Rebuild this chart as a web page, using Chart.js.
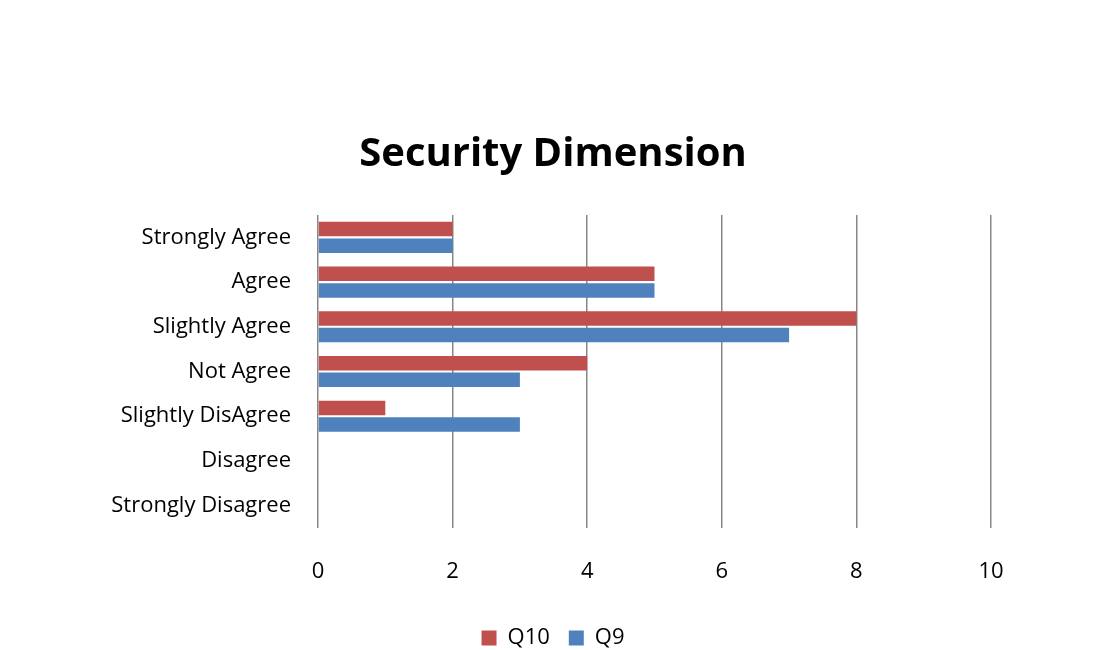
<!DOCTYPE html>
<html>
<head>
<meta charset="utf-8">
<script src="https://cdn.jsdelivr.net/npm/chart.js@4"></script>
<style>
  html, body { margin: 0; padding: 0; background: #fff; }
  #wrap { width: 1094px; height: 650px; position: relative; }
</style>
</head>
<body>
<div id="wrap"><canvas id="chart" width="1094" height="650"></canvas></div>
<script>
// survey answers, top to bottom
const categories = ['Strongly Agree', 'Agree', 'Slightly Agree', 'Not Agree', 'Slightly DisAgree', 'Disagree', 'Strongly Disagree'];
const q10 = [2, 5, 8, 4, 1, 0, 0];
const q9 = [2, 5, 7, 3, 3, 0, 0];
const xTicks = [0, 2, 4, 6, 8, 10];

const FONT = '"Open Sans", sans-serif';

const ctx = document.getElementById('chart').getContext('2d');
new Chart(ctx, {
  type: 'bar',
  data: {
    labels: categories,
    datasets: [
      { label: 'Q10', data: q10, backgroundColor: '#c0504d', borderWidth: 0 },
      { label: 'Q9', data: q9, backgroundColor: '#4f81bd', borderWidth: 0 }
    ]
  },
  options: {
    indexAxis: 'y',
    responsive: false,
    animation: false,
    categoryPercentage: 0.745,
    barPercentage: 0.87,
    layout: { padding: { left: 12, right: 0, top: 0, bottom: -9 } },
    scales: {
      x: {
        min: 0,
        max: 10,
        afterBuildTicks: (scale) => { scale.ticks = xTicks.map(v => ({ value: v })); },
        grid: { color: '#878787', lineWidth: 1.5, drawTicks: false },
        border: { display: false },
        ticks: { color: '#000', padding: 31, font: { family: FONT, size: 22 } },
        afterFit: (scale) => { scale.height = 80; }
      },
      y: {
        grid: { display: false, drawTicks: false },
        border: { display: false },
        ticks: { color: '#000', padding: 27, font: { family: FONT, size: 22 } },
        afterFit: (scale) => { scale.width = 306; }
      },
      // empty axis that keeps the right margin
      yRight: {
        position: 'right',
        grid: { display: false, drawTicks: false },
        border: { display: false },
        ticks: { display: false },
        afterFit: (scale) => { scale.width = 103; }
      }
    },
    plugins: {
      title: {
        display: true,
        text: 'Security Dimension',
        color: '#000',
        font: { family: FONT, size: 40, weight: 'bold' },
        padding: { top: 131, bottom: 36 }
      },
      legend: {
        position: 'bottom',
        labels: {
          color: '#000',
          boxWidth: 15,
          boxHeight: 15,
          padding: 19,
          font: { family: FONT, size: 22 }
        }
      },
      tooltip: { enabled: false }
    }
  }
});
</script>
</body>
</html>
